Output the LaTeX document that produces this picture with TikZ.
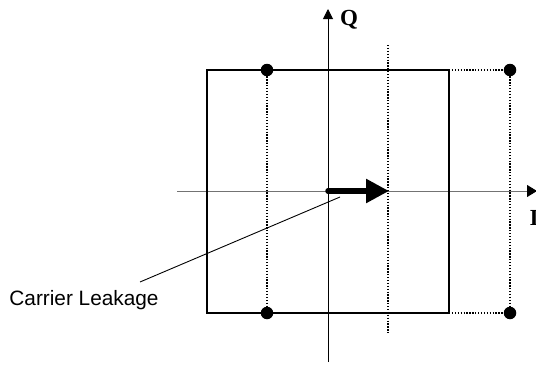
\documentclass[tikz,border=0pt]{standalone}
\usepackage{fontspec}
\setmainfont{Liberation Serif}
\setsansfont{Liberation Sans}
\usetikzlibrary{arrows.meta}
\begin{document}
\begin{tikzpicture}[x=1pt,y=-1pt,
  axis/.style={line width=1pt},
  boxline/.style={line width=2.2pt},
  dotline/.style={line width=1.3pt,dash pattern=on 1.3pt off 1.6pt},
  pt/.style={circle,fill=black,inner sep=0pt,minimum size=12.5pt},
  lbl/.style={font=\bfseries\fontsize{23}{25}\selectfont,inner sep=0pt}]
\useasboundingbox (0,0) rectangle (536,372);
% axes
\coordinate (Ibeg) at (177,191);
\coordinate (Iend) at (537,191);
\coordinate (Qbeg) at (328,362);
\coordinate (Qend) at (328,9);
\draw[axis,draw=black!55,-{Triangle[length=10pt,width=12pt,color=black]}] (Ibeg) -- (Iend);
\draw[axis,-{Triangle[length=10pt,width=10pt]}] (Qbeg) -- (Qend);
\node[lbl,anchor=west] (Q) at (340,20) {Q};
\node[lbl] (I) at (534,218) {I};
% square
\coordinate (A) at (207,70);
\coordinate (B) at (449,313);
\draw[boxline] (A) rectangle (B);
% points
\node[pt] (p1) at (267,70) {};
\node[pt] (p2) at (267,313) {};
\node[pt] (p3) at (510,70) {};
\node[pt] (p4) at (510,313) {};
\draw[dotline] (p1) -- (p2);
\draw[dotline] (p3) -- (p4);
\draw[dotline] (449,70) -- (p3);
\draw[dotline] (449,313) -- (p4);
% dotted vertical
\coordinate (dtop) at (388,45);
\coordinate (dbot) at (388,334);
\draw[dotline] (dtop) -- (dbot);
% carrier leakage arrow
\coordinate (c0) at (328,191);
\coordinate (c1) at (389,191);
\draw[line width=5.5pt,line cap=round,-{Triangle[length=23pt,width=23pt]}] (c0) -- (c1);
% label
\node[font=\sffamily\fontsize{20.8}{24}\selectfont,inner sep=0pt] (cl) at (84,300) {Carrier Leakage};
\coordinate (l0) at (340,197);
\coordinate (l1) at (140,282);
\draw[line width=0.9pt] (l0) -- (l1);
\end{tikzpicture}
\end{document}
